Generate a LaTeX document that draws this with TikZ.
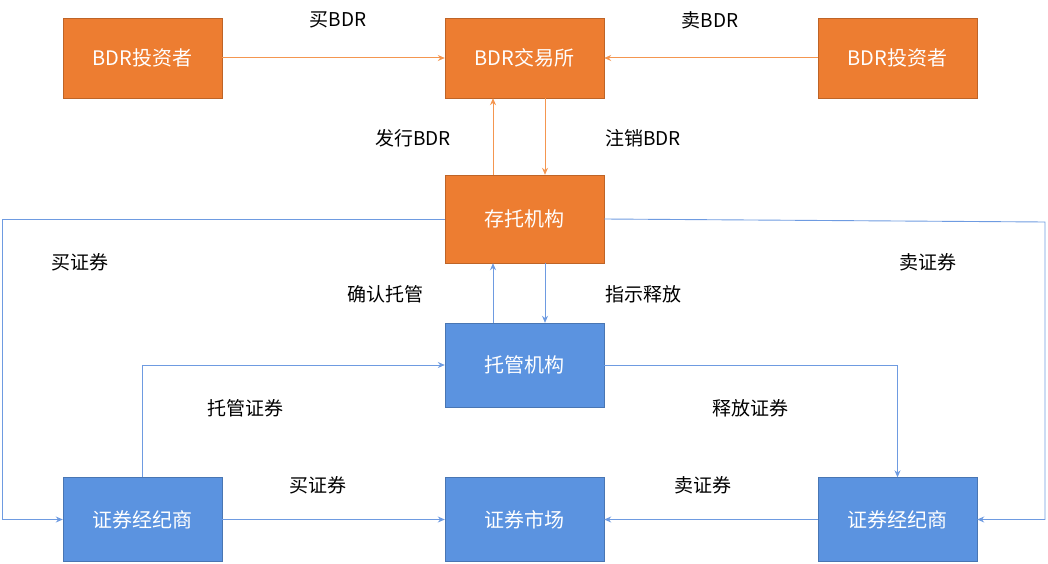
\documentclass[tikz,border=0pt]{standalone}
\usepackage{fontspec}
\setmainfont{Noto Sans CJK SC}
\usetikzlibrary{arrows.meta,positioning}
\definecolor{orgfill}{RGB}{237,125,49}
\definecolor{orgline}{RGB}{244,150,80}
\definecolor{bluefill}{RGB}{91,147,224}
\definecolor{blueline}{RGB}{110,155,225}
\begin{document}
\begin{tikzpicture}[x=1pt,y=-1pt,
	orgbox/.style={draw=orgfill!80!black, fill=orgfill, text=white, minimum width=159pt, minimum height=80pt, inner sep=0, font=\fontsize{20pt}{20pt}\selectfont},
	bluebox/.style={draw=bluefill!80!black, fill=bluefill, text=white, minimum width=159pt, minimum height=84pt, inner sep=0, font=\fontsize{20pt}{20pt}\selectfont},
	orgarr/.style={draw=orgline, line width=1pt, -{Stealth[length=7pt,width=6pt]}},
	bluearr/.style={draw=blueline, line width=0.9pt, -{Stealth[length=7pt,width=6pt]}},
	lbl/.style={font=\fontsize{19pt}{19pt}\selectfont, inner sep=0}]
	\useasboundingbox (0,0) rectangle (1048,564);
	% top row
	\node[orgbox] (inva) at (142.5,58) {BDR投资者};
	\node[orgbox] (exch) at (524.5,58) {BDR交易所};
	\node[orgbox] (invb) at (897.5,58) {BDR投资者};
	\node[orgbox, minimum height=88pt] (depo) at (524.5,219) {存托机构};
	\node[bluebox] (cust) at (524.5,365) {托管机构};
	% bottom row
	\node[bluebox] (brka) at (142.5,519.5) {证券经纪商};
	\node[bluebox] (mkt) at (524.5,519.5) {证券市场};
	\node[bluebox] (brkb) at (897.5,519.5) {证券经纪商};
	\coordinate (lft) at (2,0);
	\coordinate (rgt) at (1045,0);
	% connectors
	\draw[orgarr] (inva) -- (exch);
	\draw[orgarr] (invb) -- (exch);
	\draw[orgarr] (depo.north -| 493,0) -- (exch.south -| 493,0);
	\draw[orgarr] (exch.south -| 545,0) -- (depo.north -| 545,0);
	\draw[bluearr] (cust.north -| 493,0) -- (depo.south -| 493,0);
	\draw[bluearr] (depo.south -| 545,0) -- (cust.north -| 545,0);
	\draw[bluearr] (brka.north) |- (cust.west);
	\draw[bluearr] (cust.east) -| (brkb.north);
	\draw[bluearr] (brka) -- (mkt);
	\draw[bluearr] (brkb) -- (mkt);
	\draw[bluearr] (depo.west) -- (depo.west -| lft) |- (brka.west);
	\draw[bluearr] (depo.east) -- ([yshift=-3pt]depo.east -| rgt) |- (brkb.east);
	% labels
	\node[lbl] at (338,20) {买BDR};
	\node[lbl] at (710,20) {卖BDR};
	\node[lbl] at (413,138) {发行BDR};
	\node[lbl] at (643,138) {注销BDR};
	\node[lbl] at (385,294) {确认托管};
	\node[lbl] at (643,294) {指示释放};
	\node[lbl] at (245,408) {托管证券};
	\node[lbl] at (750,408) {释放证券};
	\node[lbl] at (318,485) {买证券};
	\node[lbl] at (703,485) {卖证券};
	\node[lbl] at (80,262) {买证券};
	\node[lbl] at (928,262) {卖证券};
\end{tikzpicture}
\end{document}
